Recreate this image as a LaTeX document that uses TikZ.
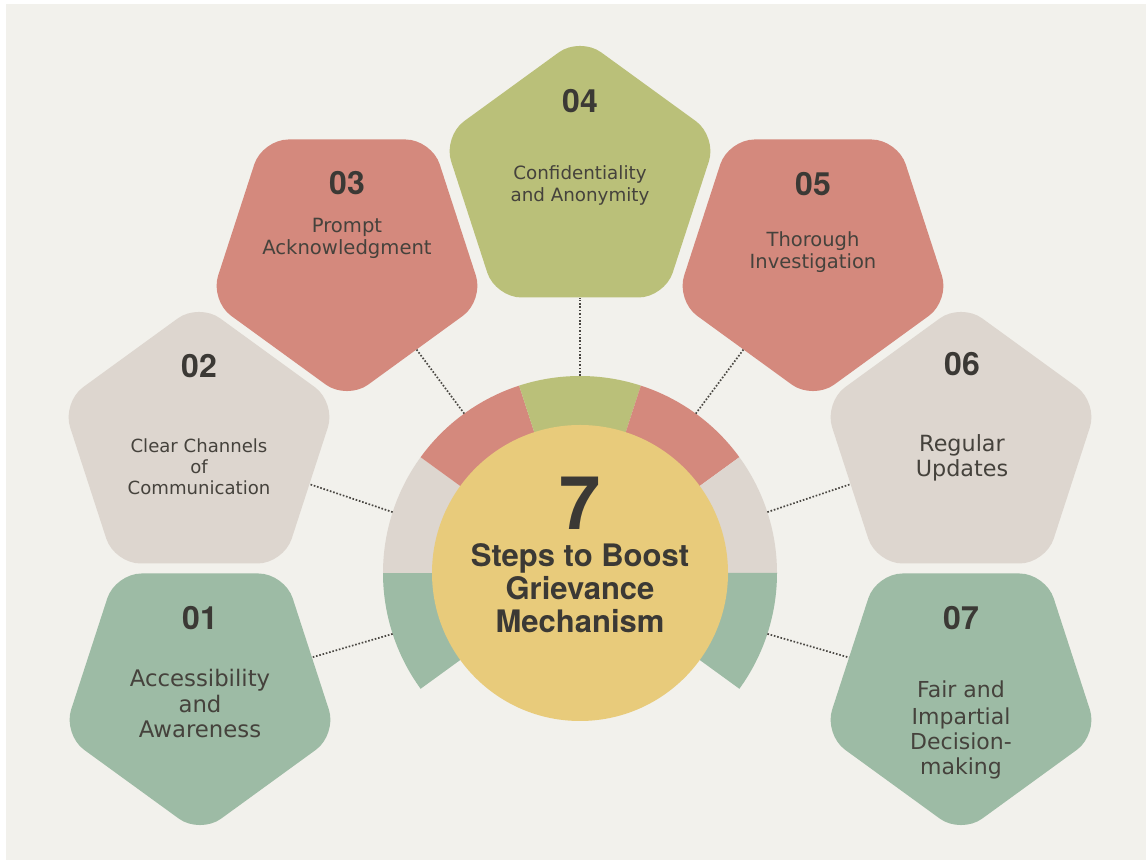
\documentclass[tikz,border=0pt]{standalone}
\usepackage{fontspec}
\setmainfont{DejaVu Sans}
\newfontfamily\headfont{TeX Gyre Heros}
\usetikzlibrary{shapes.geometric,calc}

\definecolor{bgc}{HTML}{F2F1EC}
\definecolor{redc}{HTML}{D4897D}
\definecolor{olivec}{HTML}{BAC079}
\definecolor{beigec}{HTML}{DDD6CF}
\definecolor{greenc}{HTML}{9DBBA5}
\definecolor{yellowc}{HTML}{E8CB7B}
\definecolor{numc}{HTML}{3B3935}
\definecolor{bodyc}{HTML}{45423C}
\definecolor{dotc}{HTML}{4A4742}

\begin{document}
\begin{tikzpicture}[x=1pt,y=1pt,
  penta/.style={regular polygon, regular polygon sides=5, minimum size=288pt,
                inner sep=0pt, outer sep=0pt, rounded corners=26pt, draw=none},
  pdown/.style={penta, shape border rotate=180},
  numtxt/.style={font=\headfont\bfseries\fontsize{32}{32}\selectfont, text=numc,
                 anchor=base, inner sep=0pt},
  bodytxt/.style={font=\fontsize{#1}{#1}\selectfont, text=bodyc, anchor=base, inner sep=0pt},
  headtxt/.style={font=\headfont\bfseries\fontsize{#1}{#1}\selectfont, text=numc,
                  anchor=base, inner sep=0pt},
  link/.style={draw=dotc, line width=1.7pt, dash pattern=on 1.6pt off 1.8pt},
]
% canvas
\fill[white] (0,0) rectangle (1146,861);
\fill[bgc] (6,1) rectangle (1146,857);
\useasboundingbox (0,0) rectangle (1146,861);

% segmented ring around the hub
\coordinate (C) at (580,288);
\fill[greenc]  (C) -- ++(216:197) arc[start angle=216, end angle=180, radius=197] -- cycle;
\fill[beigec]  (C) -- ++(180:197) arc[start angle=180, end angle=144, radius=197] -- cycle;
\fill[redc]    (C) -- ++(144:197) arc[start angle=144, end angle=108, radius=197] -- cycle;
\fill[olivec]  (C) -- ++(108:197) arc[start angle=108, end angle=72,  radius=197] -- cycle;
\fill[redc]    (C) -- ++(72:197)  arc[start angle=72,  end angle=36,  radius=197] -- cycle;
\fill[beigec]  (C) -- ++(36:197)  arc[start angle=36,  end angle=0,   radius=197] -- cycle;
\fill[greenc]  (C) -- ++(0:197)   arc[start angle=0,   end angle=-36, radius=197] -- cycle;

% hub
\node[circle, fill=yellowc, minimum size=296pt, inner sep=0pt] (hub) at (C) {};

% step pentagons
\node[pdown, fill=greenc]  (p1) at (200,171) {};
\node[penta, fill=beigec]  (p2) at (199,414) {};
\node[pdown, fill=redc]    (p3) at (347,605) {};
\node[penta, fill=olivec]  (p4) at (580,680) {};
\node[pdown, fill=redc]    (p5) at (813,605) {};
\node[penta, fill=beigec]  (p6) at (961,414) {};
\node[pdown, fill=greenc]  (p7) at (961,171) {};

% dotted links from the ring to each step
\coordinate (r1) at ($(C)+(198:197)$);
\coordinate (r2) at ($(C)+(162:197)$);
\coordinate (r3) at ($(C)+(126:197)$);
\coordinate (r4) at ($(C)+(90:197)$);
\coordinate (r5) at ($(C)+(54:197)$);
\coordinate (r6) at ($(C)+(18:197)$);
\coordinate (r7) at ($(C)+(-18:197)$);
\draw[link] (r1) -- (p1);
\draw[link] (r2) -- (p2);
\draw[link] (r3) -- (p3);
\draw[link] (r4) -- (p4);
\draw[link] (r5) -- (p5);
\draw[link] (r6) -- (p6);
\draw[link] (r7) -- (p7);

% hub title
\node[headtxt=74] (t7) at (580,331) {7};
\node[headtxt=31] (ta) at (580,294) {Steps to Boost};
\node[headtxt=31] (tb) at (580,261) {Grievance};
\node[headtxt=31] (tc) at (580,228) {Mechanism};

% step 01
\node[numtxt] (n1) at (200,231) {01};
\node[bodytxt=22.8] (l1a) at (200,174) {Accessibility};
\node[bodytxt=22.8] (l1b) at (200,148) {and};
\node[bodytxt=22.8] (l1c) at (200,123) {Awareness};

% step 02
\node[numtxt] (n2) at (199,483) {02};
\node[bodytxt=18.1] (l2a) at (199,408) {Clear Channels};
\node[bodytxt=18.1] (l2b) at (199,387) {of};
\node[bodytxt=18.1] (l2c) at (199,366) {Communication};

% step 03
\node[numtxt] (n3) at (347,666) {03};
\node[bodytxt=19.6] (l3a) at (347,628) {Prompt};
\node[bodytxt=19.6] (l3b) at (347,606) {Acknowledgment};

% step 04
\node[numtxt] (n4) at (580,748) {04};
\node[bodytxt=18.3] (l4a) at (580,681) {Confidentiality};
\node[bodytxt=18.3] (l4b) at (580,659) {and Anonymity};

% step 05
\node[numtxt] (n5) at (813,665) {05};
\node[bodytxt=19.5] (l5a) at (813,614) {Thorough};
\node[bodytxt=19.5] (l5b) at (813,592) {Investigation};

% step 06
\node[numtxt] (n6) at (962,485) {06};
\node[bodytxt=22.3] (l6a) at (962,409) {Regular};
\node[bodytxt=22.3] (l6b) at (962,384) {Updates};

% step 07
\node[numtxt] (n7) at (961,231) {07};
\node[bodytxt=22] (l7a) at (961,163) {Fair and};
\node[bodytxt=22] (l7b) at (961,136) {Impartial};
\node[bodytxt=22] (l7c) at (961,111) {Decision-};
\node[bodytxt=22] (l7d) at (961,86)  {making};
\end{tikzpicture}
\end{document}
